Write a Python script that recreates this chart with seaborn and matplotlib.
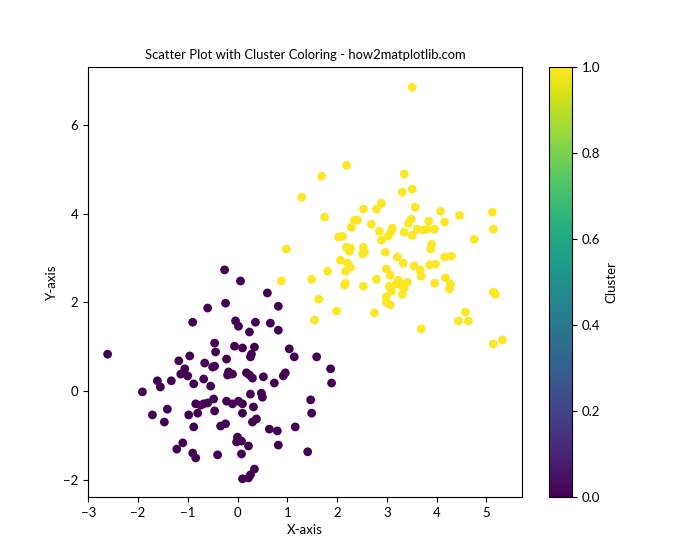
import numpy as np
import pandas as pd
import matplotlib
matplotlib.use("Agg")
import matplotlib.pyplot as plt
import seaborn as sns

plt.rcParams['font.family'] = ['Lato', 'DejaVu Sans']

# Cluster 0 (purple)
x0 = [-2.61, -0.26, 0.06, 0.60, -0.60, -0.24, 0.82, -0.90, -0.04, 0.02,
      0.36, 0.66, 0.24, 0.82, -0.46, -0.44, -0.06, 0.10, 0.34, 0.28,
      0.26, 1.04, 1.14, 1.59, -0.22, 1.87, -0.50, -0.46, -0.18, -0.10,
      -0.20, 0.18, 0.24, 0.30, 0.52, 0.96, 0.92, -0.96, -1.18, -0.66,
      -1.06, -1.14, -1.00, -0.68, -1.61, -1.33, -1.55, -1.91, -0.88, -0.54,
      -0.48, -0.84, -0.74, -0.68, -0.60, -1.41, -1.71, -0.98, -0.80, -0.46,
      -1.47, -0.88, -1.10, -1.22, -0.90, -0.84, -0.40, 0.74, 1.89, 0.26,
      0.48, 0.50, -0.22, -0.10, 0.02, 0.10, 1.47, 0.10, 0.32, 1.49,
      0.38, 0.30, -0.24, -0.34, 0.64, 0.80, 1.16, 0.00, -0.02, 0.08,
      0.22, 0.82, 0.08, 1.41, 0.34, 0.26, 0.22, 0.10]
y0 = [0.83, 2.73, 2.48, 2.21, 1.87, 1.98, 1.91, 1.55, 1.58, 1.46,
      1.55, 1.53, 1.33, 1.37, 1.08, 0.88, 1.01, 0.97, 0.99, 0.83,
      0.77, 0.95, 0.77, 0.77, 0.72, 0.50, 0.54, 0.56, 0.43, 0.38,
      0.36, 0.41, 0.36, 0.29, 0.32, 0.41, 0.34, 0.79, 0.68, 0.63,
      0.50, 0.38, 0.34, 0.27, 0.23, 0.23, 0.09, -0.02, 0.16, 0.11,
      -0.18, -0.29, -0.32, -0.29, -0.27, -0.41, -0.54, -0.54, -0.50, -0.45,
      -0.70, -0.81, -1.17, -1.31, -1.40, -1.51, -1.44, 0.18, 0.18, -0.07,
      -0.05, -0.14, -0.23, -0.29, -0.23, -0.29, -0.20, -0.50, -0.36, -0.50,
      -0.63, -0.70, -0.74, -0.79, -0.86, -0.90, -0.81, -1.04, -1.15, -1.13,
      -1.24, -1.22, -1.42, -1.37, -1.76, -1.89, -1.96, -1.98]

# Cluster 1 (yellow)
x1 = [3.51, 2.19, 1.69, 1.29, 3.35, 3.31, 3.51, 2.89, 2.79, 2.53,
      1.75, 2.35, 2.41, 2.69, 2.29, 2.85, 3.11, 3.09, 3.03, 2.03,
      2.11, 2.89, 0.98, 2.19, 2.27, 2.25, 2.53, 2.55, 2.51, 2.97,
      3.21, 2.07, 2.21, 2.27, 2.17, 2.99, 1.81, 3.57, 4.08, 4.46,
      5.12, 4.16, 3.84, 3.49, 3.43, 3.35, 3.61, 3.73, 3.82, 3.96,
      3.51, 5.14, 4.76, 3.90, 3.88, 3.33, 3.55, 3.67, 3.86, 3.98,
      4.16, 4.30, 3.07, 0.88, 1.49, 2.17, 2.15, 2.53, 2.79, 3.05,
      3.09, 3.19, 3.23, 3.29, 3.35, 3.41, 2.99, 2.99, 3.07, 1.63,
      1.99, 2.75, 1.55, 3.69, 3.31, 3.96, 4.18, 4.28, 4.26, 5.14,
      5.18, 4.58, 4.44, 4.64, 3.69, 5.32, 5.14]
y1 = [6.85, 5.09, 4.84, 4.37, 4.89, 4.48, 4.55, 4.23, 4.10, 4.10,
      3.92, 3.85, 3.85, 3.76, 3.69, 3.60, 3.67, 3.60, 3.49, 3.47,
      3.49, 3.40, 3.20, 3.24, 3.22, 3.15, 3.24, 3.13, 3.09, 3.13,
      3.02, 2.95, 2.88, 2.79, 2.70, 2.75, 2.70, 4.14, 4.05, 3.96,
      4.03, 3.81, 3.83, 3.87, 3.78, 3.58, 3.65, 3.63, 3.65, 3.65,
      3.51, 3.65, 3.42, 3.31, 3.20, 2.88, 2.82, 2.73, 2.84, 2.86,
      3.02, 3.04, 2.61, 2.48, 2.52, 2.43, 2.39, 2.36, 2.52, 2.36,
      2.25, 2.41, 2.50, 2.39, 2.32, 2.45, 2.12, 2.00, 1.94, 2.07,
      1.80, 1.76, 1.60, 2.59, 2.18, 2.43, 2.55, 2.41, 2.30, 2.23,
      2.18, 1.78, 1.58, 1.58, 1.40, 1.15, 1.06]

cluster_ids = [0, 1]
colorbar_ticks = [0.0, 0.2, 0.4, 0.6, 0.8, 1.0]

df = pd.DataFrame({
    "x": x0 + x1,
    "y": y0 + y1,
    "cluster": [cluster_ids[0]] * len(x0) + [cluster_ids[1]] * len(x1),
})

fig = plt.figure(figsize=(7, 5.6), dpi=100)
ax = fig.add_axes([0.126, 0.1125, 0.620, 0.7675])
cax = fig.add_axes([0.784, 0.1125, 0.033, 0.7675])

norm = matplotlib.colors.Normalize(vmin=0, vmax=1)
sns.scatterplot(data=df, x="x", y="y", hue="cluster", palette="viridis",
                hue_norm=norm, s=40, linewidth=0, legend=False, ax=ax)

ax.set_title("Scatter Plot with Cluster Coloring - how2matplotlib.com", fontsize=9.4)
ax.set_xlabel("X-axis", fontsize=9.5)
ax.set_ylabel("Y-axis", fontsize=9.5)
ax.tick_params(labelsize=9.5)
ax.set_xlim(-3.0, 5.72)
ax.set_ylim(-2.39, 7.30)

sm = matplotlib.cm.ScalarMappable(norm=norm, cmap="viridis")
cb = fig.colorbar(sm, cax=cax, ticks=colorbar_ticks)
cb.set_label("Cluster", fontsize=9.5)
cb.ax.tick_params(labelsize=9.5)

fig.savefig("out.png", dpi=100)
